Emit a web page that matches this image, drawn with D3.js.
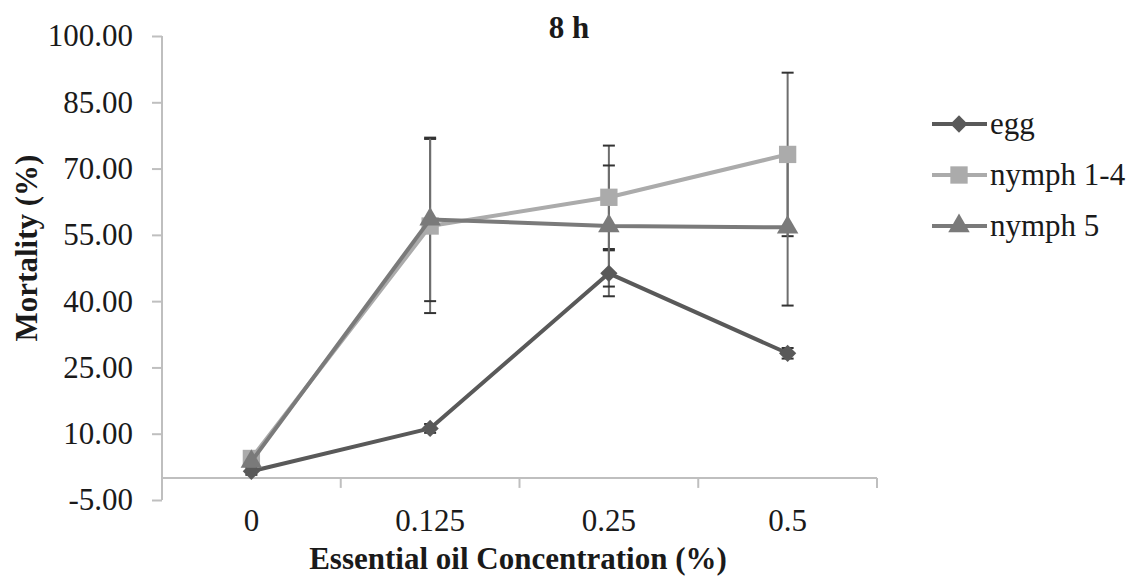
<!DOCTYPE html>
<html>
<head>
<meta charset="utf-8">
<script src="https://cdn.jsdelivr.net/npm/d3@7"></script>
<style>
  body { margin: 0; background: #fff; }
  svg text { font-family: "Liberation Serif", "Times New Roman", serif; fill: #1a1a1a; }
</style>
</head>
<body>
<div id="chart"></div>
<script>
// Mortality at 8 h

// data
const categories = ['0', '0.125', '0.25', '0.5']
const yTicks = [-5, 10, 25, 40, 55, 70, 85, 100]
const seriesNames = ['egg', 'nymph 1-4', 'nymph 5']
const eggValues = [1.5, 11.2, 46.3, 28.2]
const eggErrors = [0.8, 1.0, 5.2, 1.2]
const nymph14Values = [4.4, 57.0, 63.5, 73.2]
const nymph14Errors = [1.0, 19.7, 11.7, 18.5]
const nymph5Values = [3.7, 58.5, 57.0, 56.7]
const nymph5Errors = [0.8, 18.5, 13.7, 17.7]

const width = 1131
const height = 578
const margin = {left: 162, right: 254, top: 36, bottom: 78}
const fontSize = 31

const series = [
  {name: seriesNames[0], values: eggValues, errors: eggErrors, color: '#595959', shape: d3.symbolDiamond2, size: 190},
  {name: seriesNames[1], values: nymph14Values, errors: nymph14Errors, color: '#ababab', shape: d3.symbolSquare, size: 300},
  {name: seriesNames[2], values: nymph5Values, errors: nymph5Errors, color: '#7a7a7a', shape: d3.symbolTriangle, size: 200},
]

const svg = d3.select('#chart')
  .append('svg')
  .attr('width', width)
  .attr('height', height)

const x = d3.scaleBand()
  .domain(categories)
  .range([margin.left, width - margin.right])
  .padding(0)

const y = d3.scaleLinear()
  .domain([-5, 100])
  .range([height - margin.bottom, margin.top])

const cx = (c) => x(c) + x.bandwidth() / 2

// y axis, plain hyphen for the minus like the original
const yFormat = (d) => d3.format('.2f')(d).replace('\u2212', '-')
const yAxis = svg.append('g')
  .attr('transform', `translate(${margin.left},0)`)
  .call(d3.axisLeft(y).tickValues(yTicks).tickSize(10).tickPadding(19).tickFormat(yFormat))
yAxis.select('.domain').attr('stroke', '#bfbfbf').attr('stroke-width', 2).attr('d', `M0,${y(-5)}V${y(100)}`)
yAxis.selectAll('.tick line').attr('stroke', '#bfbfbf').attr('stroke-width', 2)
yAxis.selectAll('.tick text').attr('font-size', fontSize).attr('fill', '#1a1a1a')
  .style('font-family', '"Liberation Serif", serif')

// x axis sits at zero
const xAxis = svg.append('g')
  .attr('transform', `translate(0,${y(0)})`)
xAxis.append('line')
  .attr('x1', margin.left).attr('x2', width - margin.right)
  .attr('stroke', '#bfbfbf').attr('stroke-width', 2)
const edges = categories.map((c) => x(c) + x.bandwidth())
xAxis.selectAll('.xtick')
  .data(edges)
  .enter()
  .append('line')
  .attr('x1', (d) => d).attr('x2', (d) => d)
  .attr('y1', 0).attr('y2', 10)
  .attr('stroke', '#bfbfbf').attr('stroke-width', 2)

svg.selectAll('.xlabel')
  .data(categories)
  .enter()
  .append('text')
  .attr('x', (d) => cx(d))
  .attr('y', 531)
  .attr('text-anchor', 'middle')
  .attr('font-size', fontSize)
  .text((d) => d)

// error bars
series.forEach((s) => {
  const g = svg.append('g')
  categories.forEach((c, i) => {
    const lo = y(s.values[i] - s.errors[i])
    const hi = y(s.values[i] + s.errors[i])
    g.append('line')
      .attr('x1', cx(c)).attr('x2', cx(c))
      .attr('y1', lo).attr('y2', hi)
      .attr('stroke', '#6e6e6e').attr('stroke-width', 2)
    ;[lo, hi].forEach((yy) => {
      g.append('line')
        .attr('x1', cx(c) - 6).attr('x2', cx(c) + 6)
        .attr('y1', yy).attr('y2', yy)
        .attr('stroke', '#333').attr('stroke-width', 2)
    })
  })
})

// lines and markers
const line = d3.line()
  .x((d, i) => cx(categories[i]))
  .y((d) => y(d))

series.forEach((s) => {
  svg.append('path')
    .attr('d', line(s.values))
    .attr('fill', 'none')
    .attr('stroke', s.color)
    .attr('stroke-width', 4)
    .attr('stroke-linejoin', 'round')

  svg.selectAll(null)
    .data(s.values)
    .enter()
    .append('path')
    .attr('d', d3.symbol().type(s.shape).size(s.size))
    .attr('transform', (d, i) => `translate(${cx(categories[i])},${y(d)})`)
    .attr('fill', s.color)
})

// title
svg.append('text')
  .attr('x', 569).attr('y', 38)
  .attr('text-anchor', 'middle')
  .attr('font-size', fontSize)
  .attr('font-weight', 'bold')
  .text('8 h')

// axis titles
svg.append('text')
  .attr('x', 518).attr('y', 569)
  .attr('text-anchor', 'middle')
  .attr('font-size', fontSize)
  .attr('font-weight', 'bold')
  .text('Essential oil Concentration (%)')

svg.append('text')
  .attr('transform', 'translate(37,248) rotate(-90)')
  .attr('text-anchor', 'middle')
  .attr('font-size', fontSize)
  .attr('font-weight', 'bold')
  .text('Mortality (%)')

// legend
const legend = svg.append('g')
series.forEach((s, i) => {
  const ly = 124 + i * 51
  legend.append('line')
    .attr('x1', 932).attr('x2', 987)
    .attr('y1', ly).attr('y2', ly)
    .attr('stroke', s.color).attr('stroke-width', 4)
  legend.append('path')
    .attr('d', d3.symbol().type(s.shape).size(s.size))
    .attr('transform', `translate(959,${ly})`)
    .attr('fill', s.color)
  legend.append('text')
    .attr('x', 990).attr('y', ly + 10)
    .attr('font-size', fontSize)
    .text(s.name)
})
</script>
</body>
</html>
